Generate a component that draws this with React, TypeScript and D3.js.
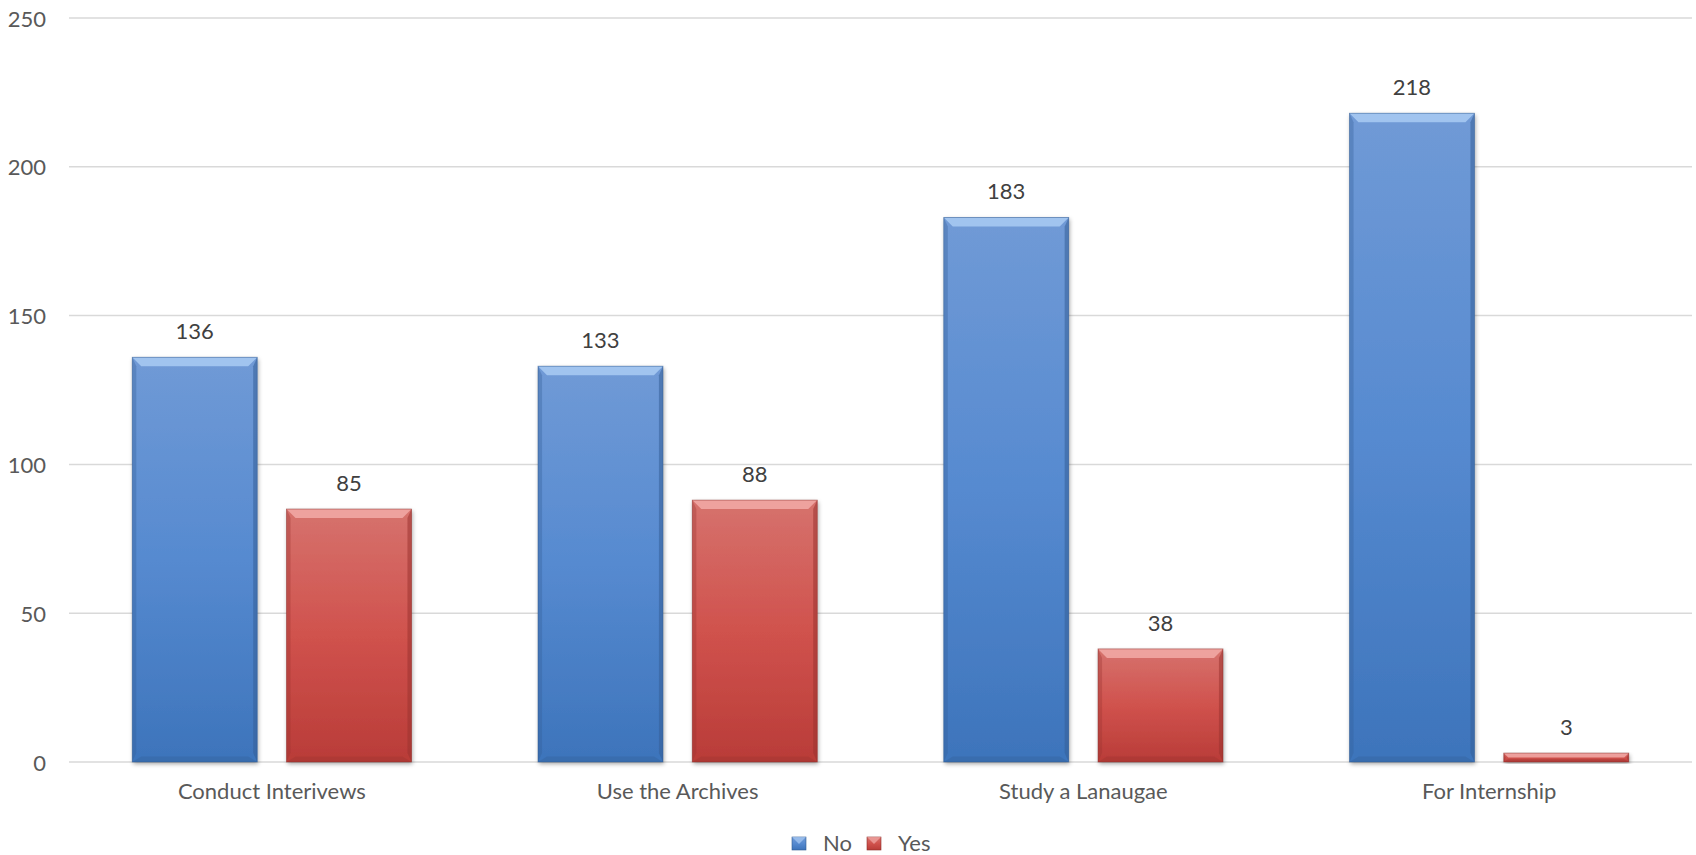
import React from "react";
import * as d3 from "d3";

const categories = ["Conduct Interivews", "Use the Archives", "Study a Lanaugae", "For Internship"];
const noValues = [136, 133, 183, 218];
const yesValues = [85, 88, 38, 3];
const seriesNames = ["No", "Yes"];
const yTicks = [0, 50, 100, 150, 200, 250];

const W = 1696;
const H = 855;
const M = { left: 69, right: 4, top: 18, bottom: 93 };

const FONT = "Lato, 'Open Sans', sans-serif";
const TXT = "#595959";

const palettes = [
  { top: "#709ad6", mid: "#568ad0", bot: "#3d74bb", bevel: "#a9cbf3", side: "#345e98", edge: "#2f5a90" },
  { top: "#d6726d", mid: "#d0524d", bot: "#b93c38", bevel: "#f2aaa7", side: "#9a3330", edge: "#8c2e2b" },
];

export default function App() {
  const x0 = d3.scaleBand<string>().domain(categories).range([M.left, W - M.right]).paddingInner(0).paddingOuter(0);
  const x1 = d3.scaleBand<string>().domain(seriesNames).range([0, x0.bandwidth()]).paddingInner(0.19).paddingOuter(0.41);
  const y = d3.scaleLinear().domain([0, 250]).range([H - M.bottom, M.top]);

  const series = [noValues, yesValues];
  const bev = 9;

  return (
    <svg width={W} height={H} style={{ position: "absolute", left: 0, top: 0, background: "#fff" }}>
      <defs>
        {palettes.map((p, i) => (
          <linearGradient key={i} id={`g${i}`} x1="0" y1="0" x2="0" y2="1">
            <stop offset="0" stopColor={p.top} />
            <stop offset="0.5" stopColor={p.mid} />
            <stop offset="1" stopColor={p.bot} />
          </linearGradient>
        ))}
        <filter id="sh" x="-10%" y="-10%" width="130%" height="130%">
          <feDropShadow dx="1" dy="2" stdDeviation="2" floodColor="#000" floodOpacity="0.35" />
        </filter>
      </defs>

      {yTicks.map((t) => (
        <g key={t}>
          <line x1={M.left} x2={W - M.right} y1={y(t)} y2={y(t)} stroke="#d9d9d9" strokeWidth={1.5} />
          <text x={46} y={y(t)} textAnchor="end" dominantBaseline="central" fontFamily={FONT} fontSize={22} fill={TXT}>
            {t}
          </text>
        </g>
      ))}

      {categories.map((c, ci) => (
        <g key={c}>
          {series.map((vals, si) => {
            const p = palettes[si];
            const bx = (x0(c) as number) + (x1(seriesNames[si]) as number);
            const bw = x1.bandwidth();
            const by = y(vals[ci]);
            const bh = y(0) - by;
            const b = Math.min(bev, bh / 2);
            return (
              <g key={si}>
                <rect x={bx} y={by} width={bw} height={bh} fill={`url(#g${si})`} filter="url(#sh)" />
                <polygon points={`${bx},${by} ${bx + bw},${by} ${bx + bw - b},${by + b} ${bx + b},${by + b}`} fill={p.bevel} opacity={0.85} />
                <polygon points={`${bx},${by} ${bx + b * 0.45},${by + b} ${bx + b * 0.45},${by + bh - b} ${bx},${by + bh}`} fill={p.side} opacity={0.35} />
                <polygon points={`${bx + bw},${by} ${bx + bw - b * 0.45},${by + b} ${bx + bw - b * 0.45},${by + bh - b} ${bx + bw},${by + bh}`} fill={p.side} opacity={0.55} />
                <polygon points={`${bx},${by + bh} ${bx + b},${by + bh - b * 0.6} ${bx + bw - b},${by + bh - b * 0.6} ${bx + bw},${by + bh}`} fill={p.side} opacity={0.35} />
                <rect x={bx} y={by} width={bw} height={bh} fill="none" stroke={p.edge} strokeWidth={0.8} strokeOpacity={0.6} />
                <text x={bx + bw / 2} y={by - 18} textAnchor="middle" fontFamily={FONT} fontSize={22} fill="#404040">
                  {vals[ci]}
                </text>
              </g>
            );
          })}
          <text x={(x0(c) as number) + x0.bandwidth() / 2} y={y(0) + 37} textAnchor="middle" fontFamily={FONT} fontSize={22} fill={TXT}>
            {c}
          </text>
        </g>
      ))}

      {seriesNames.map((s, i) => {
        const lx = i === 0 ? 792 : 867;
        const p = palettes[i];
        return (
          <g key={s}>
            <rect x={lx} y={837} width={14} height={13} fill={`url(#g${i})`} stroke={p.edge} strokeWidth={0.6} />
            <polygon points={`${lx},${837} ${lx + 14},${837} ${lx + 7},${844}`} fill={p.bevel} opacity={0.7} />
            <text x={lx + 31} y={851} fontFamily={FONT} fontSize={22} fill={TXT}>
              {s}
            </text>
          </g>
        );
      })}
    </svg>
  );
}
